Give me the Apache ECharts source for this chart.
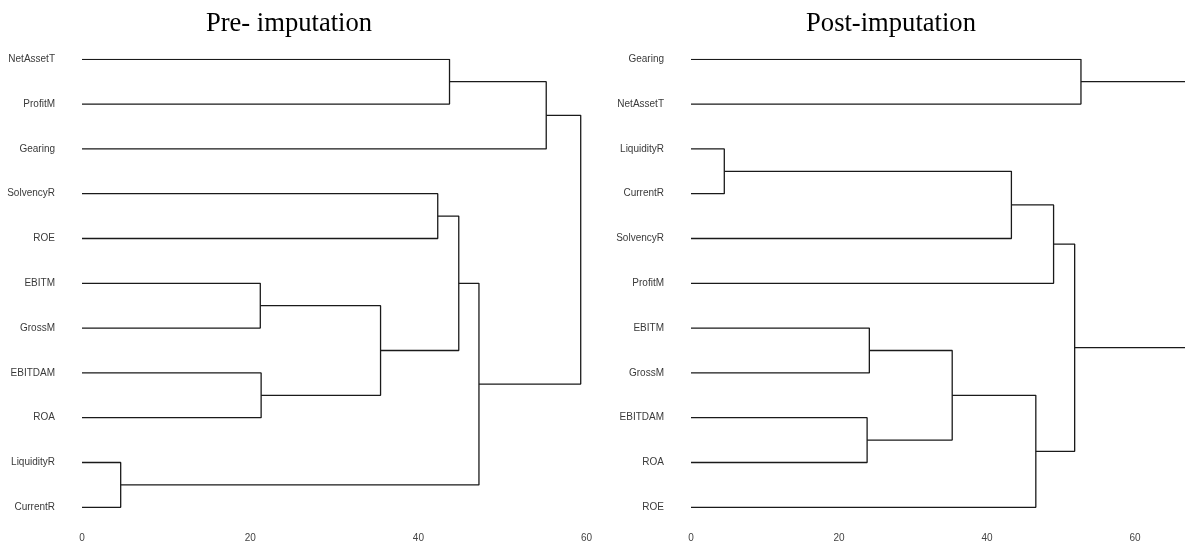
<!DOCTYPE html>
<html>
<head>
<meta charset="utf-8">
<script src="https://cdn.jsdelivr.net/npm/echarts@6/dist/echarts.min.js"></script>
<style>
  html, body { margin: 0; padding: 0; background: #fff; }
  #chart { width: 1185px; height: 546px; }
</style>
</head>
<body>
<div id="chart"></div>
<script>
// ---- Data ----
// Leaf order (top to bottom) for each dendrogram
var preLeaves = ['NetAssetT', 'ProfitM', 'Gearing', 'SolvencyR', 'ROE', 'EBITM', 'GrossM', 'EBITDAM', 'ROA', 'LiquidityR', 'CurrentR'];
var postLeaves = ['Gearing', 'NetAssetT', 'LiquidityR', 'CurrentR', 'SolvencyR', 'ProfitM', 'EBITM', 'GrossM', 'EBITDAM', 'ROA', 'ROE'];

// Merge steps (hclust style): negative = leaf number (1-based in leaf order), positive = earlier merge step
var preMergeA = [-10, -6, -8, 2, -4, -1, 5, 7, 6, 9];
var preMergeB = [-11, -7, -9, 3, -5, -2, 4, 1, -3, 8];
var preHeights = [4.6, 21.2, 21.3, 35.5, 42.3, 43.7, 44.8, 47.2, 55.2, 59.3];

var postMergeA = [-3, -9, -7, 3, 1, 4, 5, 7, -1, 9];
var postMergeB = [-4, -10, -8, 2, -5, -11, -6, 6, -2, 8];
var postHeights = [4.5, 23.8, 24.1, 35.3, 43.3, 46.6, 49.0, 51.85, 52.7, 72];

var xTicks = [0, 20, 40, 60];
var titles = ['Pre- imputation', 'Post-imputation'];

// ---- Build dendrogram segments ----
function buildSeries(mA, mB, heights, axisIndex) {
  var nodeY = [], nodeH = [];
  function pos(ref) {
    if (ref < 0) return { y: -ref - 1, h: 0 };
    return { y: nodeY[ref - 1], h: nodeH[ref - 1] };
  }
  var series = [];
  for (var i = 0; i < heights.length; i++) {
    var a = pos(mA[i]), b = pos(mB[i]), H = heights[i];
    nodeY.push((a.y + b.y) / 2);
    nodeH.push(H);
    series.push({
      type: 'line',
      xAxisIndex: axisIndex,
      yAxisIndex: axisIndex,
      data: [[a.h, a.y], [H, a.y], [H, b.y], [b.h, b.y]],
      showSymbol: false,
      symbol: 'none',
      clip: true,
      silent: true,
      lineStyle: { color: '#1a1a1a', width: 1.3 },
      animation: false
    });
  }
  return series;
}

var labelColor = '#3a3a3a';
function yAxis(gridIndex, leaves) {
  return {
    type: 'value', gridIndex: gridIndex, min: 0, max: leaves.length - 1, interval: 1,
    inverse: true,
    axisLine: { show: false }, axisTick: { show: false }, splitLine: { show: false },
    axisLabel: {
      margin: 27, fontSize: 10, color: labelColor, fontFamily: 'Liberation Sans, Arial, sans-serif',
      formatter: function (v) { return leaves[v] || ''; }
    }
  };
}
function xAxis(gridIndex, max) {
  return {
    type: 'value', gridIndex: gridIndex, min: 0, max: max, interval: 20,
    axisLine: { show: false }, axisTick: { show: false }, splitLine: { show: false },
    axisLabel: {
      margin: 26, fontSize: 10, color: '#444', fontFamily: 'Liberation Sans, Arial, sans-serif',
      showMaxLabel: xTicks.indexOf(max) >= 0,
      formatter: function (v) { return xTicks.indexOf(v) >= 0 ? String(v) : ''; }
    }
  };
}

var titleStyle = { fontFamily: 'Liberation Serif, Times New Roman, serif', fontSize: 26.6, fontWeight: 'normal', color: '#000' };
var chart = echarts.init(document.getElementById('chart'), null, { renderer: 'canvas' });
chart.setOption({
  animation: false,
  backgroundColor: '#fff',
  title: [
    { text: titles[0], left: 284, top: 6, textAlign: 'center', textStyle: titleStyle },
    { text: titles[1], left: 886, top: 6, textAlign: 'center', textStyle: titleStyle }
  ],
  grid: [
    { left: 82, top: 59.3, width: 504.6, height: 448 },
    { left: 691, top: 59.3, width: 494, height: 448 }
  ],
  xAxis: [xAxis(0, 60), xAxis(1, 66.76)],
  yAxis: [yAxis(0, preLeaves), yAxis(1, postLeaves)],
  series: buildSeries(preMergeA, preMergeB, preHeights, 0)
    .concat(buildSeries(postMergeA, postMergeB, postHeights, 1))
});
</script>
</body>
</html>
